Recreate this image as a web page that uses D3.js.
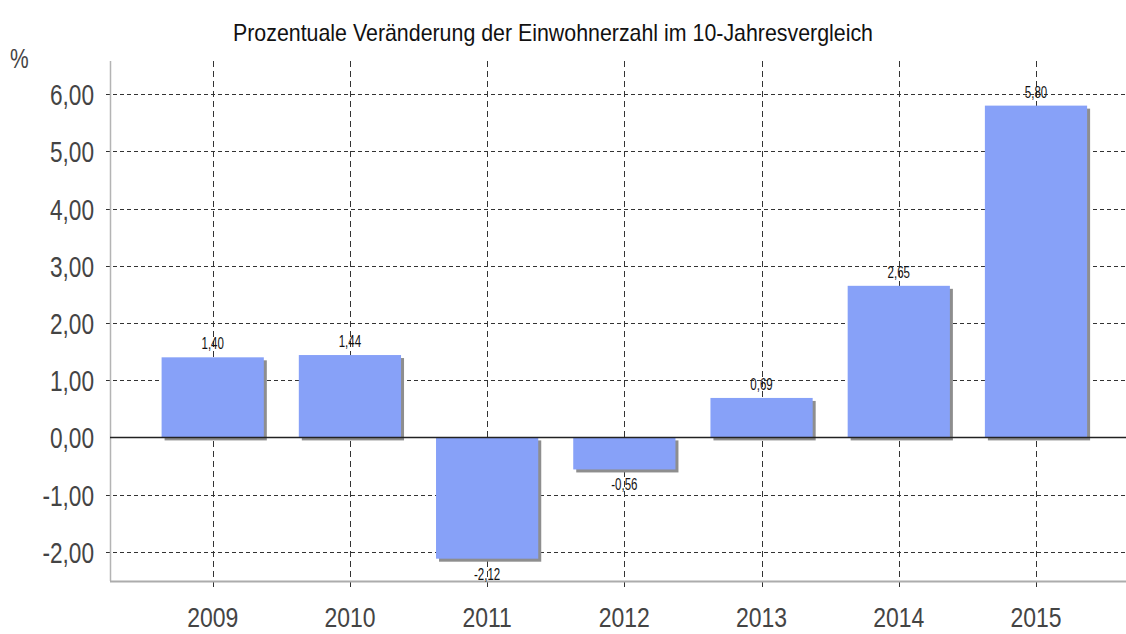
<!DOCTYPE html>
<html>
<head>
<meta charset="utf-8">
<script src="https://cdn.jsdelivr.net/npm/d3@7"></script>
<style>
  html, body { margin: 0; padding: 0; background: #fff; }
  svg { display: block; }
  text { font-family: "Liberation Sans", Arial, sans-serif; }
</style>
</head>
<body>
<svg id="chart" width="1126" height="634"></svg>
<script>
// Population change per year (percent)
const years = ["2009", "2010", "2011", "2012", "2013", "2014", "2015"];
const changes = [1.40, 1.44, -2.12, -0.56, 0.69, 2.65, 5.80];
const yTicks = [-2, -1, 0, 1, 2, 3, 4, 5, 6];
const titleText = "Prozentuale Veränderung der Einwohnerzahl im 10-Jahresvergleich";
const unitText = "%";

const plot = { left: 110, right: 1126, top: 61, bottom: 581 };

const svg = d3.select("#chart");
const fmt = v => d3.format(".2f")(v).replace(".", ",").replace("\u2212", "-");

// Narrow the glyphs of a text selection horizontally by a factor
function narrow(sel, factor) {
  sel.each(function () {
    const w = this.getComputedTextLength();
    d3.select(this).attr("textLength", w * factor).attr("lengthAdjust", "spacingAndGlyphs");
  });
}

const y = d3.scaleLinear().domain([-2.51, 6.58]).range([plot.bottom, plot.top]);
const x = d3.scaleBand().domain(years).range([144.1, 1104.6]).paddingInner(0.255).paddingOuter(0.1275);
const cx = d => x(d) + x.bandwidth() / 2;

// Title
svg.append("text")
  .attr("x", 553).attr("y", 41)
  .attr("text-anchor", "middle")
  .attr("font-size", 24)
  .attr("fill", "#111")
  .text(titleText)
  .call(narrow, 0.89);

// Unit
svg.append("text")
  .attr("x", 10).attr("y", 68)
  .attr("font-size", 28)
  .attr("fill", "#444")
  .text(unitText)
  .call(narrow, 0.75);

// Horizontal gridlines
svg.append("g").selectAll("line")
  .data(yTicks.filter(t => t !== 0))
  .join("line")
  .attr("x1", plot.left - 4).attr("x2", plot.right)
  .attr("y1", d => Math.round(y(d)) + 0.5).attr("y2", d => Math.round(y(d)) + 0.5)
  .attr("stroke", "#333").attr("stroke-width", 1)
  .attr("stroke-dasharray", "4,3");

// Vertical gridlines
svg.append("g").selectAll("line")
  .data(years)
  .join("line")
  .attr("x1", d => Math.round(cx(d)) + 0.5).attr("x2", d => Math.round(cx(d)) + 0.5)
  .attr("y1", plot.top).attr("y2", plot.bottom + 9)
  .attr("stroke", "#333").attr("stroke-width", 1)
  .attr("stroke-dasharray", "6,4");

// Y axis labels
const yAxis = d3.axisLeft(y).tickValues(yTicks).tickFormat(fmt).tickSize(0).tickPadding(16);
const gy = svg.append("g").attr("transform", `translate(${plot.left},0)`).call(yAxis);
gy.select(".domain").remove();
gy.selectAll("text")
  .attr("font-family", "Liberation Sans, Arial, sans-serif")
  .attr("font-size", 29).attr("fill", "#444").attr("dy", "0.36em")
  .call(narrow, 0.78);

// X axis labels
const xAxis = d3.axisBottom(x).tickSize(0).tickPadding(0);
const gx = svg.append("g").attr("transform", `translate(0,${plot.bottom})`).call(xAxis);
gx.select(".domain").remove();
gx.selectAll("text")
  .attr("font-family", "Liberation Sans, Arial, sans-serif")
  .attr("font-size", 28).attr("fill", "#444").attr("y", 46).attr("dy", 0)
  .call(narrow, 0.82);

// Bar shadows and bars
const data = years.map((yr, i) => ({ yr, v: changes[i] }));
const bars = svg.append("g");
bars.selectAll("rect.shadow")
  .data(data)
  .join("rect")
  .attr("class", "shadow")
  .attr("x", d => x(d.yr) + 3)
  .attr("y", d => Math.min(y(d.v), y(0)) + 3)
  .attr("width", x.bandwidth())
  .attr("height", d => Math.abs(y(d.v) - y(0)))
  .attr("fill", "#8e8e8e");
bars.selectAll("rect.bar")
  .data(data)
  .join("rect")
  .attr("class", "bar")
  .attr("x", d => x(d.yr))
  .attr("y", d => Math.min(y(d.v), y(0)))
  .attr("width", x.bandwidth())
  .attr("height", d => Math.abs(y(d.v) - y(0)))
  .attr("fill", "#87a1f8");

// Axis lines
svg.append("line")
  .attr("x1", plot.left + 0.5).attr("x2", plot.left + 0.5)
  .attr("y1", plot.top).attr("y2", plot.bottom)
  .attr("stroke", "#b4b4b4").attr("stroke-width", 1.5);
svg.append("line")
  .attr("x1", plot.left).attr("x2", plot.right)
  .attr("y1", plot.bottom + 0.5).attr("y2", plot.bottom + 0.5)
  .attr("stroke", "#acacac").attr("stroke-width", 2);

// Zero line
svg.append("line")
  .attr("x1", plot.left).attr("x2", plot.right)
  .attr("y1", Math.round(y(0)) + 0.5).attr("y2", Math.round(y(0)) + 0.5)
  .attr("stroke", "#222").attr("stroke-width", 1.3);

// Value labels
svg.append("g").selectAll("text")
  .data(data)
  .join("text")
  .attr("x", d => cx(d.yr))
  .attr("y", d => d.v >= 0 ? y(d.v) - 8 : y(d.v) + 21)
  .attr("text-anchor", "middle")
  .attr("font-size", 16)
  .attr("fill", "#111")
  .text(d => fmt(d.v))
  .call(narrow, 0.72);
</script>
</body>
</html>
